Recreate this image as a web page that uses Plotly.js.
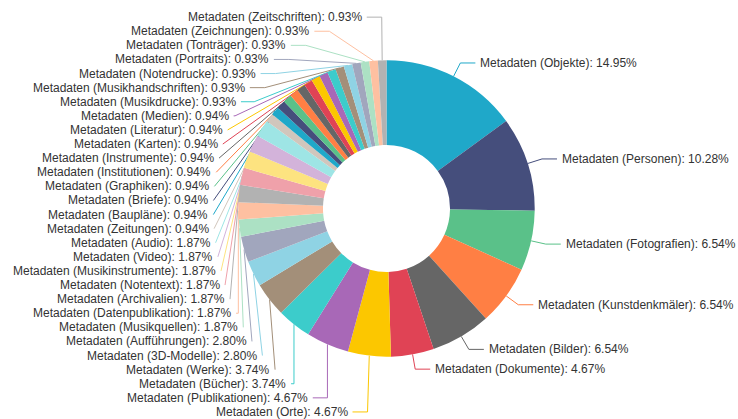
<!DOCTYPE html>
<html>
<head>
<meta charset="utf-8">
<script src="https://cdn.plot.ly/plotly-3.0.1.min.js"></script>
<style>html,body{margin:0;padding:0;background:#fff;}#chart{width:738px;height:419px;}</style>
</head>
<body>
<div id="chart"></div>
<script>
// ---- data ----
const categories = [
  "Metadaten (Objekte)", "Metadaten (Personen)", "Metadaten (Fotografien)", "Metadaten (Kunstdenkmäler)",
  "Metadaten (Bilder)", "Metadaten (Dokumente)", "Metadaten (Orte)", "Metadaten (Publikationen)",
  "Metadaten (Bücher)", "Metadaten (Werke)", "Metadaten (3D-Modelle)", "Metadaten (Aufführungen)",
  "Metadaten (Musikquellen)", "Metadaten (Datenpublikation)", "Metadaten (Archivalien)", "Metadaten (Notentext)",
  "Metadaten (Musikinstrumente)", "Metadaten (Video)", "Metadaten (Audio)", "Metadaten (Zeitungen)",
  "Metadaten (Baupläne)", "Metadaten (Briefe)", "Metadaten (Graphiken)", "Metadaten (Institutionen)",
  "Metadaten (Instrumente)", "Metadaten (Karten)", "Metadaten (Literatur)", "Metadaten (Medien)",
  "Metadaten (Musikdrucke)", "Metadaten (Musikhandschriften)", "Metadaten (Notendrucke)", "Metadaten (Portraits)",
  "Metadaten (Tonträger)", "Metadaten (Zeichnungen)", "Metadaten (Zeitschriften)"
];
const shares = [
  14.95, 10.28, 6.54, 6.54,
  6.54, 4.67, 4.67, 4.67,
  3.74, 3.74, 2.80, 2.80,
  1.87, 1.87, 1.87, 1.87,
  1.87, 1.87, 1.87, 0.94,
  0.94, 0.94, 0.94, 0.94,
  0.94, 0.94, 0.94, 0.94,
  0.93, 0.93, 0.93, 0.93,
  0.93, 0.93, 0.93
];
const palette = ['#1FA8C9','#454E7C','#5AC189','#FF7F44','#666666','#E04355','#FCC700','#A868B7','#3CCCCB','#A38F79',
                 '#8FD3E4','#A1A6BD','#ACE1C4','#FEC0A1','#B2B2B2','#EFA1AA','#FDE380','#D3B3DA','#9EE5E5','#D1C6BC'];

// ---- geometry ----
const W = 738, H = 419;
const CX = 386.5, CY = 208.5, R = 148.2, HOLE = 0.4286;
const LEN = 15, LEN2 = 15, DIST = 5, RECT_H = 14.1, VIEW_TOP = 0, VIEW_BOTTOM = 419;
const colors = categories.map((c, i) => palette[i % palette.length]);

// ---- label layout (pie outer labels with guide lines) ----
const total = shares.reduce((a, b) => a + b, 0);
let cum = 0;
const items = shares.map((v, i) => {
  const a0 = cum / total * 2 * Math.PI; cum += v;
  const a1 = cum / total * 2 * Math.PI;
  const mid = (a0 + a1) / 2;
  const dx = Math.sin(mid), dy = -Math.cos(mid);
  const x1 = CX + R * dx, y1 = CY + R * dy;
  const x2 = CX + (R + LEN) * dx, y2 = CY + (R + LEN) * dy;
  const dir = dx < 0 ? -1 : 1;
  const x3 = x2 + dir * LEN2;
  return {
    i, len: LEN, len2: LEN2, normal: [dx, dy],
    label: { x: x3 + dir * DIST, y: y2 },
    rect: { y: y2 - RECT_H / 2, height: RECT_H },
    linePoints: [[x1, y1], [x2, y2], [x3, y2]],
    text: categories[i] + ': ' + v.toFixed(2) + '%'
  };
});

function shiftLayout(list, minBound, maxBound) {
  const len = list.length;
  if (len < 2) return false;
  list.sort((a, b) => a.rect.y - b.rect.y);
  let lastPos = 0, adjusted = false;
  for (let i = 0; i < len; i++) {
    const it = list[i];
    const delta = it.rect.y - lastPos;
    if (delta < 0) { it.rect.y -= delta; it.label.y -= delta; adjusted = true; }
    lastPos = it.rect.y + it.rect.height;
  }
  const first = list[0], last = list[len - 1];
  let minGap, maxGap;
  function update() { minGap = first.rect.y - minBound; maxGap = maxBound - last.rect.y - last.rect.height; }
  function shiftList(delta, start, end) {
    if (delta !== 0) adjusted = true;
    for (let i = start; i < end; i++) { list[i].rect.y += delta; list[i].label.y += delta; }
  }
  function squeezeGaps(delta, maxPct) {
    const gaps = []; let totalGaps = 0;
    for (let i = 1; i < len; i++) {
      const p = list[i - 1].rect;
      const g = Math.max(list[i].rect.y - p.y - p.height, 0);
      gaps.push(g); totalGaps += g;
    }
    if (!totalGaps) return;
    const pct = Math.min(Math.abs(delta) / totalGaps, maxPct);
    if (delta > 0) { for (let i = 0; i < len - 1; i++) shiftList(gaps[i] * pct, 0, i + 1); }
    else { for (let i = len - 1; i > 0; i--) shiftList(-gaps[i - 1] * pct, i, len); }
  }
  function takeBoundsGap(gThis, gOther, moveDir) {
    if (gThis < 0) {
      const mv = Math.min(gOther, -gThis);
      if (mv > 0) {
        shiftList(mv * moveDir, 0, len);
        const remained = mv + gThis;
        if (remained < 0) squeezeGaps(-remained * moveDir, 1);
      } else squeezeGaps(-gThis * moveDir, 1);
    }
  }
  function squeezeWhenBailout(delta) {
    const d = delta < 0 ? -1 : 1; delta = Math.abs(delta);
    const each = Math.ceil(delta / (len - 1));
    for (let i = 0; i < len - 1; i++) {
      if (d > 0) shiftList(each, 0, i + 1); else shiftList(-each, len - i - 1, len);
      delta -= each; if (delta <= 0) return;
    }
  }
  update();
  if (minGap < 0) squeezeGaps(-minGap, 0.8);
  if (maxGap < 0) squeezeGaps(maxGap, 0.8);
  update();
  takeBoundsGap(minGap, maxGap, 1);
  takeBoundsGap(maxGap, minGap, -1);
  update();
  if (minGap < 0) squeezeWhenBailout(-minGap);
  if (maxGap < 0) squeezeWhenBailout(maxGap);
  return adjusted;
}

function recalcX(list, dir) {
  const top = { list: [], maxY: 0, rB: 0 }, bot = { list: [], maxY: 0, rB: 0 };
  list.forEach(it => {
    const semi = it.label.y > CY ? bot : top;
    const dy = Math.abs(it.label.y - CY);
    if (dy >= semi.maxY) {
      const dx = it.label.x - CX - it.len2 * dir;
      const rA = R + it.len;
      semi.rB = Math.abs(dx) < rA ? Math.sqrt(dy * dy / (1 - dx * dx / rA / rA)) : rA;
      semi.maxY = dy;
    }
    semi.list.push(it);
  });
  [top, bot].forEach(semi => {
    const rB2 = semi.rB * semi.rB;
    semi.list.forEach(it => {
      const dy = Math.abs(it.label.y - CY);
      const rA = R + it.len;
      const dx = Math.sqrt(Math.max(0, 1 - Math.abs(dy * dy / rB2)) * rA * rA);
      it.label.x = CX + (dx + it.len2) * dir;
    });
  });
}

const leftList = items.filter(it => it.label.x < CX);
const rightList = items.filter(it => it.label.x >= CX);
if (shiftLayout(rightList, VIEW_TOP, VIEW_BOTTOM)) recalcX(rightList, 1);
if (shiftLayout(leftList, VIEW_TOP, VIEW_BOTTOM)) recalcX(leftList, -1);

function project(x1, y1, x2, y2, x, y, out) {
  const dx = x - x1, dy = y - y1;
  let dx1 = x2 - x1, dy1 = y2 - y1;
  const L = Math.sqrt(dx1 * dx1 + dy1 * dy1);
  dx1 /= L; dy1 /= L;
  const t = dx * dx1 + dy * dy1;
  out[0] = x1 + t * dx1; out[1] = y1 + t * dy1;
  return Math.hypot(out[0] - x, out[1] - y);
}
function clampOnSeg(p, p1, p2) {
  const t = p2[0] !== p1[0] ? (p[0] - p1[0]) / (p2[0] - p1[0]) : (p[1] - p1[1]) / (p2[1] - p1[1]);
  if (isNaN(t)) return null;
  if (t < 0) return [p1[0], p1[1]];
  if (t > 1) return [p2[0], p2[1]];
  return p;
}
function limitTurnAngle(lp, minDeg) {
  const a = minDeg / 180 * Math.PI;
  const p0 = lp[0], p1 = lp[1], p2 = lp[2];
  let v1 = [p0[0] - p1[0], p0[1] - p1[1]], v2 = [p2[0] - p1[0], p2[1] - p1[1]];
  const l1 = Math.hypot(v1[0], v1[1]), l2 = Math.hypot(v2[0], v2[1]);
  if (l1 < 1e-3 || l2 < 1e-3) return;
  v1 = [v1[0] / l1, v1[1] / l1]; v2 = [v2[0] / l2, v2[1] / l2];
  const c = v1[0] * v2[0] + v1[1] * v2[1];
  if (Math.cos(a) < c) {
    const out = [0, 0];
    const d = project(p1[0], p1[1], p2[0], p2[1], p0[0], p0[1], out);
    const k = d / Math.tan(Math.PI - a);
    let np = [out[0] + v2[0] * k, out[1] + v2[1] * k];
    np = clampOnSeg(np, p1, p2);
    if (np) lp[1] = np;
  }
}
function limitSurfaceAngle(lp, normal, maxDeg) {
  const a = maxDeg / 180 * Math.PI;
  const p0 = lp[0], p1 = lp[1], p2 = lp[2];
  let v1 = [p1[0] - p0[0], p1[1] - p0[1]], v2 = [p2[0] - p1[0], p2[1] - p1[1]];
  const l1 = Math.hypot(v1[0], v1[1]), l2 = Math.hypot(v2[0], v2[1]);
  if (l1 < 1e-3 || l2 < 1e-3) return;
  v1 = [v1[0] / l1, v1[1] / l1]; v2 = [v2[0] / l2, v2[1] / l2];
  const c = v1[0] * normal[0] + v1[1] * normal[1];
  if (c < Math.cos(a)) {
    const out = [0, 0];
    const d = project(p1[0], p1[1], p2[0], p2[1], p0[0], p0[1], out);
    const ang2 = Math.acos(v2[0] * normal[0] + v2[1] * normal[1]);
    const newAng = Math.PI / 2 + ang2 - a;
    let np;
    if (newAng >= Math.PI / 2) np = [p2[0], p2[1]];
    else {
      const k = d / Math.tan(Math.PI / 2 - newAng);
      np = clampOnSeg([out[0] + v2[0] * k, out[1] + v2[1] * k], p1, p2);
    }
    if (np) lp[1] = np;
  }
}

items.forEach(it => {
  const lp = it.linePoints;
  const dist = lp[1][0] - lp[2][0];
  lp[2][0] = it.label.x < CX ? it.label.x + DIST : it.label.x - DIST;
  lp[1][0] = lp[2][0] + dist;
  lp[1][1] = lp[2][1] = it.label.y;
  limitTurnAngle(lp, 90);
  limitSurfaceAngle(lp, it.normal, 90);
});

// ---- plotly figure ----
const px = x => x / W, py = y => 1 - y / H;
const shapes = items.map(it => {
  const lp = it.linePoints;
  return {
    type: 'path', xref: 'paper', yref: 'paper', layer: 'below',
    path: 'M' + lp.map(p => px(p[0]).toFixed(5) + ',' + py(p[1]).toFixed(5)).join(' L'),
    line: { color: colors[it.i], width: 1 }
  };
});
const annotations = items.map(it => ({
  xref: 'paper', yref: 'paper', x: px(it.label.x), y: py(it.label.y),
  xanchor: it.label.x < CX ? 'right' : 'left', yanchor: 'middle',
  text: it.text, showarrow: false, borderpad: 0, borderwidth: 0,
  font: { family: 'Liberation Sans, Arial, Helvetica, sans-serif', size: 12, color: '#333333' }
}));

const trace = {
  type: 'pie', labels: categories, values: shares, sort: false,
  direction: 'clockwise', rotation: 0, hole: HOLE,
  marker: { colors: colors, line: { width: 0 } },
  textinfo: 'none', hoverinfo: 'label+percent', showlegend: false,
  domain: { x: [(CX - R) / W, (CX + R) / W], y: [(H - CY - R) / H, (H - CY + R) / H] }
};

Plotly.newPlot('chart', [trace], {
  width: W, height: H, margin: { l: 0, r: 0, t: 0, b: 0 },
  paper_bgcolor: '#ffffff', plot_bgcolor: '#ffffff', showlegend: false,
  shapes: shapes, annotations: annotations
}, { displayModeBar: false, staticPlot: true });
</script>
</body>
</html>
